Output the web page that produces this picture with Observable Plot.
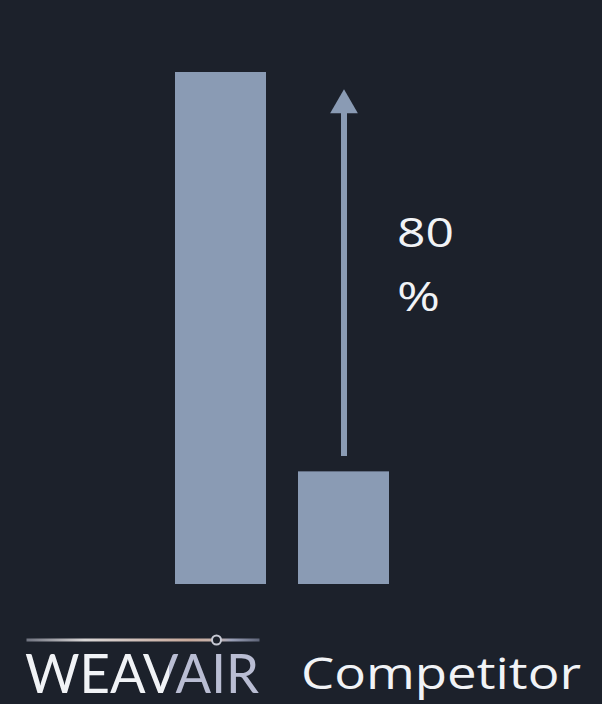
<!DOCTYPE html>
<html><head><meta charset="utf-8">
<script src="https://cdn.jsdelivr.net/npm/d3@7"></script>
<script src="https://cdn.jsdelivr.net/npm/@observablehq/plot@0.6"></script>
<style>
html,body{margin:0;padding:0;background:#1c212b;}
#chart{width:602px;height:704px;overflow:hidden;}
</style></head><body><div id="chart"></div>
<script>
// Data
const categories = ["WEAVAIR", "Competitor"];
const values = [100, 22];
const arrowFrom = [25];      // bottom of arrow shaft (value units)
const arrowTo = [93];        // top of arrow shaft (value units)
const arrowHeadAt = [93.6];  // centre of arrow head (value units)
const changeLabel = ["80\n%"];
const labelAt = [74.8];

const bars = categories.map((c, i) => ({category: c, value: values[i]}));
const arrowData = [{category: categories[1], y1: arrowFrom[0], y2: arrowTo[0], head: arrowHeadAt[0]}];
const noteData = [{category: categories[1], y: labelAt[0], text: changeLabel[0]}];

const barColor = "#8a9bb4";
const textColor = "#f1f3f6";

const chart = Plot.plot({
  width: 602, height: 704,
  marginTop: 72, marginBottom: 120, marginLeft: 143, marginRight: 181,
  style: {background: "#1c212b", color: textColor, fontFamily: "'Open Sans', sans-serif", overflow: "visible"},
  x: {domain: categories, padding: 0.26, axis: null},
  y: {domain: [0, 100], axis: null},
  marks: [
    Plot.barY(bars, {x: "category", y: "value", fill: barColor}),
    Plot.ruleX(arrowData, {x: "category", y1: "y1", y2: "y2", stroke: barColor, strokeWidth: 6}),
    Plot.dot(arrowData, {x: "category", y: "head", symbol: "triangle", r: 10.3, fill: barColor, stroke: null}),
    Plot.text(noteData, {x: "category", y: "y", text: "text", textAnchor: "start", lineAnchor: "top", dx: 53, fontSize: 40, lineHeight: 1.6, fill: textColor}),
    Plot.text([categories[0]], {x: d => d, text: d => d, frameAnchor: "bottom", lineAnchor: "bottom", dx: -79, dy: 108, fontSize: 55, fontFamily: "Lato, sans-serif", fontWeight: 400, fill: "url(#brandGrad)"}),
    Plot.text([categories[1]], {x: d => d, text: d => d, frameAnchor: "bottom", lineAnchor: "bottom", textAnchor: "start", dx: -43, dy: 104, fontSize: 43, fill: textColor})
  ]
});
document.getElementById("chart").appendChild(chart);

const svg = d3.select(chart);
const defs = svg.append("defs");
// Two-tone brand text: "WEAV" white, "AIR" lavender
const bg = defs.append("linearGradient").attr("id", "brandGrad")
  .attr("x1", "0").attr("x2", "1").attr("y1", "0").attr("y2", "0");
bg.append("stop").attr("offset", "0.615").attr("stop-color", textColor);
bg.append("stop").attr("offset", "0.615").attr("stop-color", "#b9bdd3");

// Stretch text horizontally like the reference
svg.selectAll("text").each(function() {
  const el = d3.select(this);
  const t = this.textContent;
  if (t === categories[1]) el.attr("textLength", 280).attr("lengthAdjust", "spacingAndGlyphs");
  else if (t === categories[0]) el.attr("textLength", 234).attr("lengthAdjust", "spacingAndGlyphs");
});
svg.selectAll("tspan").each(function() {
  const t = this.textContent;
  if (t === "80" || t === "%") {
    d3.select(this).attr("textLength", t === "%" ? 43 : 57).attr("lengthAdjust", "spacingAndGlyphs");
  }
});

// Brand logo line above WEAVAIR
const xs = chart.scale("x");
const cx = xs.apply(categories[0]) + xs.bandwidth / 2 - 79;
const ly = 584 + 56;
const g = defs.append("linearGradient").attr("id", "logoGrad").attr("gradientUnits", "userSpaceOnUse")
  .attr("x1", cx - 115).attr("x2", cx + 118).attr("y1", 0).attr("y2", 0);
g.append("stop").attr("offset", "0%").attr("stop-color", "#6f7380");
g.append("stop").attr("offset", "25%").attr("stop-color", "#d9d6d6");
g.append("stop").attr("offset", "70%").attr("stop-color", "#c9aa9c");
g.append("stop").attr("offset", "82%").attr("stop-color", "#c5b3ad");
g.append("stop").attr("offset", "88%").attr("stop-color", "#9aa0b8");
g.append("stop").attr("offset", "100%").attr("stop-color", "#5e6478");
svg.append("line").attr("x1", cx - 115).attr("x2", cx + 118).attr("y1", ly).attr("y2", ly)
  .attr("stroke", "url(#logoGrad)").attr("stroke-width", 3);
svg.append("circle").attr("cx", cx + 75).attr("cy", ly).attr("r", 4.5)
  .attr("fill", "#1c212b").attr("stroke", "#c7c9d4").attr("stroke-width", 2);
</script>
</body></html>
